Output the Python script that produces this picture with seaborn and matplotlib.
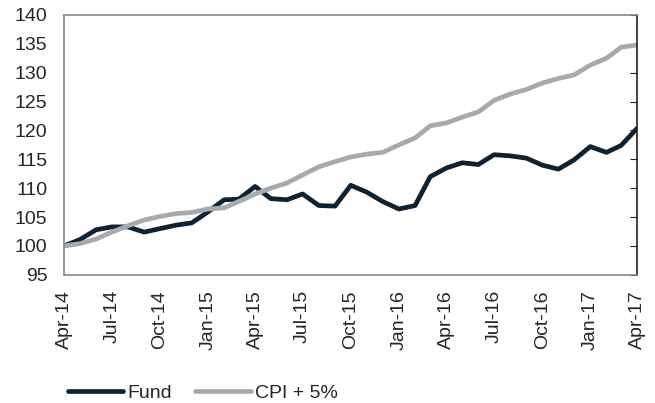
import pandas as pd
import matplotlib.pyplot as plt
import matplotlib.dates as mdates
import seaborn as sns

# monthly index values, Apr-14 to Apr-17
months = pd.date_range('2014-04-01', '2017-04-01', freq='MS')
fund = [100.0, 101.1, 102.8, 103.3, 103.3, 102.4, 103.0, 103.6, 104.0, 105.9, 108.0, 108.1,
        110.3, 108.2, 108.0, 109.0, 107.0, 106.9, 110.5, 109.3, 107.7, 106.4, 107.0, 112.0,
        113.5, 114.4, 114.1, 115.8, 115.6, 115.2, 114.0, 113.3, 114.9, 117.2, 116.2, 117.4, 120.4]
cpi5 = [100.0, 100.4, 101.2, 102.4, 103.5, 104.5, 105.1, 105.6, 105.8, 106.4, 106.6, 107.7,
        109.0, 110.0, 110.9, 112.3, 113.7, 114.6, 115.4, 115.9, 116.2, 117.5, 118.7, 120.8,
        121.3, 122.3, 123.2, 125.2, 126.3, 127.1, 128.2, 129.0, 129.6, 131.3, 132.5, 134.4, 134.8]

df = pd.DataFrame({'month': months, 'Fund': fund, 'CPI + 5%': cpi5})
long_df = df.melt(id_vars='month', var_name='series', value_name='value')

sns.set_style('white')
plt.rcParams['font.family'] = ['Liberation Sans', 'DejaVu Sans']

fig, ax = plt.subplots(figsize=(6.55, 4.03), dpi=100)
fig.subplots_adjust(left=0.098, right=0.973, top=0.963, bottom=0.318)

sns.lineplot(data=long_df, x='month', y='value', hue='series',
             palette={'Fund': '#0e2233', 'CPI + 5%': '#a7aaac'},
             linewidth=3.4, ax=ax)

ax.set_xlim(months[0], months[-1])
ax.set_ylim(95, 140)
ax.set_yticks(range(95, 141, 5))
ax.xaxis.set_major_locator(mdates.MonthLocator(bymonth=[1, 4, 7, 10]))
ax.xaxis.set_major_formatter(mdates.DateFormatter('%b-%y'))
plt.setp(ax.get_xticklabels(), rotation=90)
ax.tick_params(axis='both', labelsize=14, length=0)
ax.tick_params(axis='x', pad=11)
ax.tick_params(axis='y', right=True, direction='in', length=5, color='#222222', pad=12)
ax.set_xlabel('')
ax.set_ylabel('')

for side in ['left', 'top', 'bottom']:
    ax.spines[side].set_color('#888888')
    ax.spines[side].set_linewidth(1.2)
ax.spines['right'].set_color('#222222')
ax.spines['right'].set_linewidth(1.2)

handles, labels = ax.get_legend_handles_labels()
ax.legend(handles, labels, loc='center left', bbox_to_anchor=(0.077, 0.025),
          bbox_transform=fig.transFigure, ncol=2, frameon=False, fontsize=14,
          handlelength=2.85, handletextpad=0.2, columnspacing=1.2)

plt.savefig('out.png', dpi=100)
